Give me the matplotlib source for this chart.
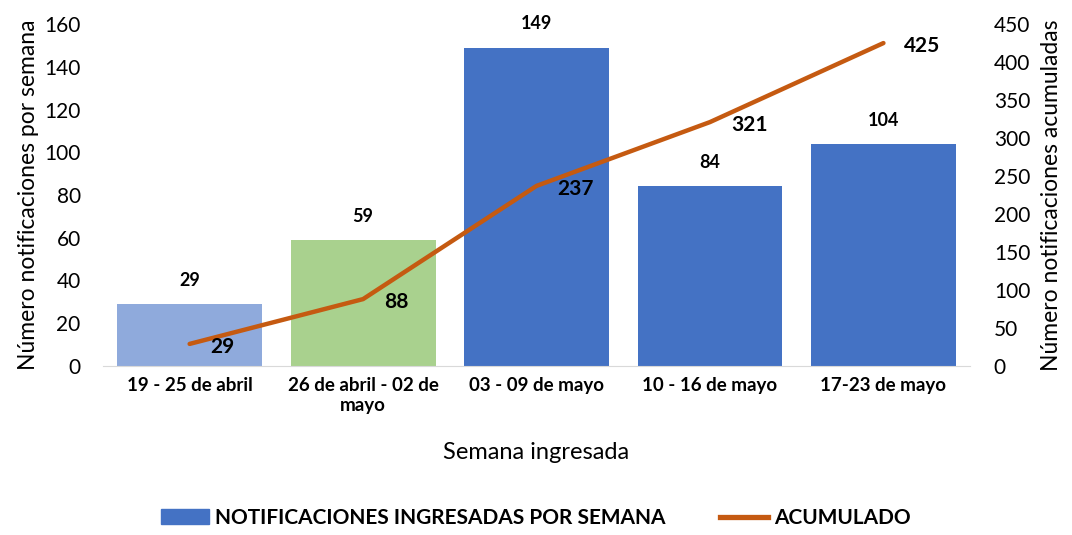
import numpy as np
import matplotlib.pyplot as plt
from matplotlib.patches import Patch
from matplotlib.lines import Line2D

plt.rcParams['font.family'] = ['Lato', 'DejaVu Sans']

# datos
semanas = ["19 - 25 de abril", "26 de abril - 02 de\nmayo", "03 - 09 de mayo",
           "10 - 16 de mayo", "17-23 de mayo"]
por_semana = [29, 59, 149, 84, 104]
acumulado = [29, 88, 237, 321, 425]
colores = ["#8FAADC", "#A9D18E", "#4472C4", "#4472C4", "#4472C4"]

fig = plt.figure(figsize=(10.72, 5.35), dpi=100)
ax = fig.add_axes([0.096, 0.316, 0.809, 0.639])
ax2 = ax.twinx()

x = np.arange(len(semanas))
ax.bar(x, por_semana, width=0.835, color=colores, zorder=2)
ax.set_xlim(-0.5, len(semanas) - 0.5)
ax.set_ylim(0, 160)
ax.set_yticks(range(0, 161, 20))

ax2.plot(x, acumulado, color="#C55A11", lw=3.2, solid_capstyle='round', zorder=3)
ax2.set_ylim(0, 450)
ax2.set_yticks(range(0, 451, 50))

# etiquetas
for xi, v in zip(x, por_semana):
    ax.annotate(str(v), (xi, v), xytext=(0, 17), textcoords='offset points',
                ha='center', va='center', fontsize=13, fontweight='bold')
for xi, v in zip(x, acumulado):
    ax2.annotate(str(v), (xi, v), xytext=(15, -2), textcoords='offset points',
                 ha='left', va='center', fontsize=15, fontweight='bold')

for a in (ax, ax2):
    for s in a.spines.values():
        s.set_visible(False)
    a.tick_params(length=0, labelsize=15)
ax.spines['bottom'].set_visible(True)
ax.spines['bottom'].set_color('#D9D9D9')
ax.tick_params(axis='y', pad=16)
ax2.tick_params(axis='y', pad=17)

ax.set_xticks(x)
ax.set_xticklabels(semanas, fontsize=13.5, fontweight='bold')
ax.tick_params(axis='x', pad=8)

ax.set_ylabel("Número notificaciones por semana", fontsize=16.5, labelpad=4)
ax2.set_ylabel("Número notificaciones acumuladas", fontsize=16.5, labelpad=8)
ax.set_xlabel("Semana ingresada", fontsize=17, labelpad=20)

handles = [Patch(color="#4472C4"), Line2D([], [], color="#C55A11", lw=3.8)]
fig.legend(handles, ["NOTIFICACIONES INGRESADAS POR SEMANA", "ACUMULADO"],
           loc='lower center', bbox_to_anchor=(0.5, -0.022), ncol=2, frameon=False,
           handlelength=2.3, handleheight=0.75, columnspacing=2.6, handletextpad=0.3,
           prop={'weight': 'bold', 'size': 15})

fig.savefig("out.png", dpi=100)
